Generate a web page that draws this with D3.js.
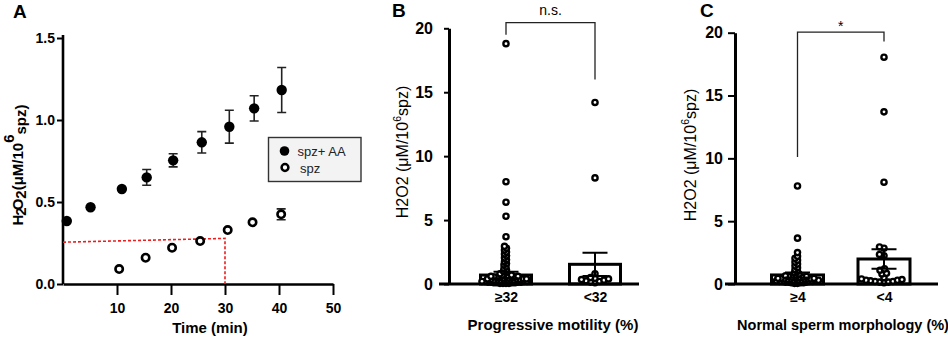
<!DOCTYPE html>
<html><head><meta charset="utf-8">
<script src="https://cdn.jsdelivr.net/npm/d3@7"></script>
<style>
body{margin:0;background:#fff}
svg{display:block}
text{font-family:"Liberation Sans",Arial,Helvetica,sans-serif;fill:#000}
</style>
</head><body>
<svg id="c" width="948" height="341"></svg>
<script>
// ---------- Panel A data ----------
const timeAA = [0.7, 5.1, 10.9, 15.5, 20.4, 25.7, 30.8, 35.4, 40.5];
const valAA  = [0.384, 0.468, 0.579, 0.65, 0.754, 0.864, 0.959, 1.071, 1.183];
const errAA  = [0, 0, 0, 0.048, 0.04, 0.065, 0.1, 0.077, 0.137];
const timeSpz = [10.4, 15.3, 20.2, 25.4, 30.5, 35.1, 40.4];
const valSpz  = [0.091, 0.16, 0.221, 0.262, 0.329, 0.376, 0.425];
const errSpz  = [0, 0, 0, 0, 0, 0, 0.033];
const refLineX = [0, 30, 30];
const refLineY = [0.255, 0.278, 0];
const ticksAx = [10, 20, 30, 40, 50];
const ticksAy = [0, 0.5, 1.0, 1.5];
const legendA = ["spz+ AA", "spz"];

// ---------- Panel B data ----------
const catsB = ["≥32", "<32"];
const meanB = [0.7, 1.54];
const semB  = [0.26, 0.91];
const ptsB_ge32 = [18.8, 8.0, 6.4, 5.3, 3.7, 2.95, 2.8, 2.65, 2.5, 2.35, 2.2, 2.05, 1.9, 1.75, 1.6, 1.5,
  1.35, 1.2, 1.1, 1.0, 0.9, 0.8,
  0.7, 0.7, 0.65, 0.65, 0.6, 0.6, 0.55, 0.55, 0.5, 0.5, 0.5, 0.45, 0.45, 0.45, 0.4, 0.4, 0.4,
  0.35, 0.35, 0.35, 0.3, 0.3, 0.3, 0.3, 0.25, 0.25, 0.25, 0.25, 0.2, 0.2, 0.2, 0.2,
  0.15, 0.15, 0.15, 0.15, 0.1, 0.1, 0.1, 0.1, 0.05, 0.05, 0.05, 0.05];
const ptsB_lt32 = [14.2, 8.3, 0.8, 0.5, 0.45, 0.4, 0.35, 0.3, 0.25, 0.2, 0.15, 0.1];
const bracketB = {top: 20.45, left: 19.5, right: 16.0, label: "n.s."};
const ticksB = [0, 5, 10, 15, 20];

// ---------- Panel C data ----------
const catsC = ["≥4", "<4"];
const meanC = [0.72, 1.99];
const semC  = [0.2, 0.78];
const ptsC_ge4 = [7.8, 3.65, 2.5, 2.2, 2.05, 1.9, 1.75, 1.6, 1.45, 1.3, 1.15, 1.0, 0.9, 0.8,
  0.7, 0.65, 0.6, 0.6, 0.55, 0.55, 0.5, 0.5, 0.5, 0.45, 0.45, 0.45, 0.4, 0.4, 0.4,
  0.35, 0.35, 0.35, 0.3, 0.3, 0.3, 0.3, 0.25, 0.25, 0.25, 0.2, 0.2, 0.2, 0.2,
  0.15, 0.15, 0.15, 0.1, 0.1, 0.1, 0.05, 0.05];
const ptsC_lt4 = [18.05, 13.7, 8.1, 2.95, 2.85, 2.35, 2.25, 1.2, 1.1, 0.85, 0.8, 0.5, 0.4, 0.35,
  0.3, 0.3, 0.25, 0.2, 0.2, 0.15, 0.15, 0.1];
const bracketC = {top: 20.05, left: 10.1, right: 19.3, label: "*"};
const ticksC = [0, 5, 10, 15, 20];

const svg = d3.select("#c");

function styleAxis(g, w, fs, bold) {
  g.select(".domain").attr("stroke", "#000").attr("stroke-width", w);
  g.selectAll(".tick line").attr("stroke", "#000").attr("stroke-width", 2);
  g.selectAll(".tick text").attr("fill", "#000").style("font-size", fs + "px")
    .style("font-weight", bold ? "bold" : "normal");
}

// ================= Panel A =================
const xA = d3.scaleLinear().domain([0, 50]).range([63, 333]);
const yA = d3.scaleLinear().domain([0, 1.5]).range([284, 38]);

svg.append("text").attr("x", 13).attr("y", 18).style("font-size", "19px").style("font-weight", "bold").text("A");

const gAy = svg.append("g").attr("transform", `translate(${xA(0)},0)`)
  .call(d3.axisLeft(yA).tickValues(ticksAy).tickFormat(d3.format(".1f")).tickSize(6).tickPadding(2).tickSizeOuter(0));
styleAxis(gAy, 2.6, 14, true);
gAy.select(".domain").attr("d", `M0,${yA(0)}V35`);
const gAx = svg.append("g").attr("transform", `translate(0,${yA(0)})`)
  .call(d3.axisBottom(xA).tickValues(ticksAx).tickSize(11).tickPadding(8).tickSizeOuter(0));
styleAxis(gAx, 2.6, 14, true);

// red dashed reference line
const refPts = refLineX.map((x, i) => [x, refLineY[i]]);
svg.append("path").attr("d", d3.line().x(d => xA(d[0])).y(d => yA(d[1]))(refPts))
  .attr("fill", "none").attr("stroke", "#f01c1c").attr("stroke-width", 1.6).attr("stroke-dasharray", "3,2");

function errA(times, vals, errs) {
  times.forEach((t, i) => {
    if (!errs[i]) return;
    const x = xA(t), y1 = yA(vals[i] + errs[i]), y0 = yA(vals[i] - errs[i]);
    svg.append("path").attr("d", `M${x},${y1}V${y0}M${x - 4.5},${y1}H${x + 4.5}M${x - 4.5},${y0}H${x + 4.5}`)
      .attr("stroke", "#222").attr("stroke-width", 1.6).attr("fill", "none");
  });
}
errA(timeAA, valAA, errAA);
errA(timeSpz, valSpz, errSpz);

svg.append("g").selectAll("circle").data(timeAA).join("circle")
  .attr("cx", d => xA(d)).attr("cy", (d, i) => yA(valAA[i])).attr("r", 5.2).attr("fill", "#000");
svg.append("g").selectAll("circle").data(timeSpz).join("circle")
  .attr("cx", d => xA(d)).attr("cy", (d, i) => yA(valSpz[i])).attr("r", 3.7)
  .attr("fill", "#fff").attr("stroke", "#000").attr("stroke-width", 2.6);

// legend
svg.append("rect").attr("x", 268.5).attr("y", 137.5).attr("width", 92.5).attr("height", 44)
  .attr("fill", "#f3f3f3").attr("stroke", "#333").attr("stroke-width", 1.4);
svg.append("circle").attr("cx", 284.5).attr("cy", 151).attr("r", 4.8).attr("fill", "#000");
svg.append("circle").attr("cx", 285).attr("cy", 167.5).attr("r", 3.4).attr("fill", "#fff").attr("stroke", "#000").attr("stroke-width", 2.5);
svg.append("text").attr("x", 297.5).attr("y", 155.8).style("font-size", "13px").style("fill", "#222").text(legendA[0]);
svg.append("text").attr("x", 300).attr("y", 172.5).style("font-size", "13px").style("fill", "#222").text(legendA[1]);

// y label A
const labA = svg.append("text").attr("transform", "translate(23,165) rotate(-90)")
  .attr("text-anchor", "middle").style("font-size", "15px").style("font-weight", "bold");
labA.append("tspan").text("H");
labA.append("tspan").attr("dy", 2.5).attr("dx", -1).text("2");
labA.append("tspan").attr("dy", -2.5).attr("dx", -3).text("O");
labA.append("tspan").attr("dy", 2.5).text("2");
labA.append("tspan").attr("dy", -2.5).text("(μM/10");
labA.append("tspan").attr("dy", -9).text("6");
labA.append("tspan").attr("dy", 12).text("spz)");

svg.append("text").attr("x", 210).attr("y", 333).attr("text-anchor", "middle")
  .style("font-size", "15px").style("font-weight", "bold").text("Time (min)");

// ================= Bar + swarm panels =================
function swarm(vals, cx, y, d) {
  const out = [];
  const sorted = vals.slice().sort((a, b) => a - b);
  for (const v of sorted) {
    const py = y(v);
    let px = cx;
    for (let k = 0; k < 400; k++) {
      const off = (k % 2 === 0 ? 1 : -1) * Math.ceil(k / 2) * 0.5;
      const cand = cx + off;
      if (out.every(p => (p.x - cand) ** 2 + (p.y - py) ** 2 >= d * d)) { px = cand; break; }
    }
    out.push({v, x: px, y: py});
  }
  return out;
}

function barPanel(o) {
  const y = d3.scaleLinear().domain([0, 20]).range([284, o.yTop]);
  const x = d3.scalePoint().domain(o.cats).range(o.xr);
  svg.append("text").attr("x", o.titleX).attr("y", 17).style("font-size", "19px").style("font-weight", "bold").text(o.title);

  // bars
  o.cats.forEach((c, i) => {
    svg.append("rect").attr("x", x(c) - o.bw / 2).attr("y", y(o.mean[i]))
      .attr("width", o.bw).attr("height", y(0) - y(o.mean[i]))
      .attr("fill", "#fff").attr("stroke", "#000").attr("stroke-width", 3);
  });
  // points
  o.pts.forEach((arr, i) => {
    const s = swarm(arr, x(o.cats[i]), y, o.d[i]);
    svg.append("g").selectAll("circle").data(s).join("circle")
      .attr("cx", p => p.x).attr("cy", p => p.y).attr("r", 2.6)
      .attr("fill", "#fff").attr("stroke", "#000").attr("stroke-width", 2.4);
  });
  // error bars
  o.cats.forEach((c, i) => {
    const cx = x(c), y1 = y(o.mean[i] + o.sem[i]), y0 = y(o.mean[i] - o.sem[i]);
    svg.append("path").attr("d", `M${cx},${y0}V${y1}M${cx - 12.5},${y1}H${cx + 12.5}M${cx - 12.5},${y0}H${cx + 12.5}`)
      .attr("stroke", "#000").attr("stroke-width", 2).attr("fill", "none");
  });

  const gy = svg.append("g").attr("transform", `translate(${o.axX},0)`)
    .call(d3.axisLeft(y).tickValues(o.ticks).tickFormat(d3.format("d")).tickSize(o.tick).tickPadding(o.pad).tickSizeOuter(0));
  styleAxis(gy, 3, 16, true);
  const gx = svg.append("g").attr("transform", `translate(0,${y(0)})`)
    .call(d3.axisBottom(x).tickSize(0).tickPadding(8));
  gx.select(".domain").attr("d", `M${o.axX - 10},0H${o.axEnd}`).attr("stroke", "#000").attr("stroke-width", 3);
  gx.selectAll(".tick text").style("font-size", "14px").style("font-weight", "bold").attr("fill", "#000");

  // bracket
  const b = o.bracket, xl = x(o.cats[0]), xr = x(o.cats[1]);
  svg.append("path").attr("d", `M${xl},${y(b.left)}V${y(b.top)}H${xr}V${y(b.right)}`)
    .attr("fill", "none").attr("stroke", "#222").attr("stroke-width", 1.3);
  svg.append("text").attr("x", (xl + xr) / 2).attr("y", y(b.top) + o.labDy).attr("text-anchor", "middle")
    .style("font-size", "14px").text(b.label);

  // y label
  const lab = svg.append("text").attr("transform", `translate(${o.ylX},${o.ylY}) rotate(-90)`)
    .attr("text-anchor", "middle").style("font-size", "16px");
  lab.append("tspan").text("H2O2 (μM/10");
  lab.append("tspan").attr("dy", -7).style("font-size", "10.5px").text("6");
  lab.append("tspan").attr("dy", 7).text("spz)");

  svg.append("text").attr("x", o.xlX).attr("y", 330).attr("text-anchor", "middle")
    .style("font-size", o.xlFs + "px").style("font-weight", "bold").text(o.xlabel);
}

barPanel({
  title: "B", titleX: 392, cats: catsB, mean: meanB, sem: semB, pts: [ptsB_ge32, ptsB_lt32],
  yTop: 28.3, xr: [506, 595], bw: 51, d: [2.6, 4.2], axX: 449, axEnd: 639, tick: 5, pad: 11, ticks: ticksB,
  bracket: bracketB, labDy: -8, ylX: 408, ylY: 152, xlX: 553, xlFs: 15, xlabel: "Progressive motility (%)"
});
barPanel({
  title: "C", titleX: 700, cats: catsC, mean: meanC, sem: semC, pts: [ptsC_ge4, ptsC_lt4],
  yTop: 32.7, xr: [797.5, 884], bw: 52, d: [2.8, 4.2], axX: 735, axEnd: 938, tick: 7, pad: 5, ticks: ticksC,
  bracket: bracketC, labDy: -1, ylX: 696, ylY: 155, xlX: 843, xlFs: 14.5, xlabel: "Normal sperm morphology (%)"
});
</script>
</body></html>
